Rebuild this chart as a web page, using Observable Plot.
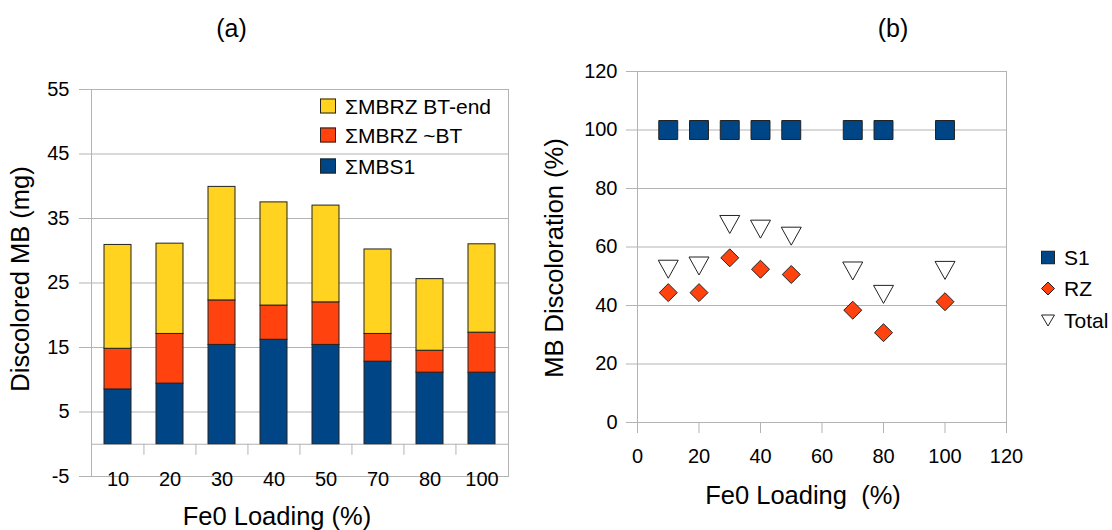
<!DOCTYPE html>
<html>
<head>
<meta charset="utf-8">
<script src="https://cdn.jsdelivr.net/npm/d3@7"></script>
<script src="https://cdn.jsdelivr.net/npm/@observablehq/plot@0.6"></script>
<style>
  body { margin: 0; background: #fff; }
  #wrap { position: relative; width: 1112px; height: 530px; overflow: hidden;
          font-family: "Liberation Sans", Arial, sans-serif; color: #000; background: #fff; }
  #wrap svg { position: absolute; top: 0; }
  .lbl { position: absolute; white-space: pre; line-height: 1; transform: translate(-50%, -50%); }
  .rot { transform: translate(-50%, -50%) rotate(-90deg); }
  .legend { position: absolute; font-size: 21px; line-height: 1; }
  .legend .row { position: absolute; display: flex; align-items: center; white-space: nowrap; }
  .sw { display: inline-block; box-sizing: border-box; border: 1px solid #222; }
</style>
</head>
<body>
<div id="wrap"></div>
<script>
// (a) discolored methylene blue per Fe0 loading, stacked by fraction
const loading = ["10", "20", "30", "40", "50", "70", "80", "100"];
const seriesA = ["ΣMBS1", "ΣMBRZ ~BT", "ΣMBRZ BT-end"];
const mbS1 = [8.5, 9.4, 15.4, 16.2, 15.4, 12.8, 11.1, 11.1];
const mbRZbt = [6.3, 7.7, 6.9, 5.3, 6.6, 4.3, 3.4, 6.2];
const mbRZend = [16.1, 14.0, 17.6, 16.0, 15.0, 13.1, 11.1, 13.7];
const colorsA = ["#004586", "#ff420e", "#ffd320"];
const yTicksA = [-5, 5, 15, 25, 35, 45, 55];

// (b) discoloration percentage per Fe0 loading
const loadingB = [10, 20, 30, 40, 50, 70, 80, 100];
const pctS1 = [100, 100, 100, 100, 100, 100, 100, 100];
const pctRZ = [44.4, 44.4, 56.3, 52.4, 50.6, 38.4, 30.7, 41.3];
const pctTotal = [52.4, 53.5, 67.7, 66.1, 63.7, 51.8, 43.8, 52.0];
const ticksB = [0, 20, 40, 60, 80, 100, 120];
const seriesB = ["S1", "RZ", "Total"];

const grid = "#b3b3b3";
const edge = "#222";
const font = '"Liberation Sans", Arial, sans-serif';
const plain = d => String(d); // hyphen-minus, as in the original labels
const wrap = document.getElementById("wrap");

// ---- panel (a): stacked bars ----
const rowsA = loading.flatMap((l, i) => [
  {load: l, series: seriesA[0], value: mbS1[i]},
  {load: l, series: seriesA[1], value: mbRZbt[i]},
  {load: l, series: seriesA[2], value: mbRZend[i]}
]);
const wA = 560, mlA = 91, mrA = 52;
const stepA = (wA - mlA - mrA) / loading.length;

const chartA = Plot.plot({
  width: wA, height: 530,
  marginLeft: mlA, marginRight: mrA, marginTop: 89, marginBottom: 54,
  style: {fontFamily: font, fontSize: "20px", background: "transparent", color: "#000", overflow: "visible"},
  x: {domain: loading, paddingInner: 0.48, paddingOuter: 0.24, label: null},
  y: {domain: [-5, 55], label: null},
  color: {domain: seriesA, range: colorsA},
  marks: [
    Plot.gridY(yTicksA, {stroke: grid, strokeOpacity: 1}),
    Plot.ruleY([0], {stroke: grid}),
    Plot.ruleX(loading.slice(1), {x: d => d, dx: -stepA / 2, y1: 0, y2: -1.7, stroke: grid}),
    Plot.frame({stroke: grid}),
    Plot.axisY(yTicksA, {tickSize: 12, tickPadding: 10, tickFormat: plain, stroke: grid, fill: "#000", label: null}),
    Plot.axisX({tickSize: 0, tickPadding: -5, fill: "#000", label: null}),
    Plot.barY(rowsA, {x: "load", y: "value", fill: "series", stroke: edge, strokeWidth: 1, order: seriesA})
  ]
});
chartA.style.left = "0px";
wrap.appendChild(chartA);

// ---- panel (b): scatter ----
const triangleDown = {
  draw(ctx, size) {
    const h = Math.sqrt(size / Math.PI);
    ctx.moveTo(-h, -0.9 * h);
    ctx.lineTo(h, -0.9 * h);
    ctx.lineTo(0, 0.9 * h);
    ctx.closePath();
  }
};
const pts = (vals) => loadingB.map((x, i) => ({x, y: vals[i]}));

const chartB = Plot.plot({
  width: 572, height: 530,
  marginLeft: 97, marginRight: 106, marginTop: 71, marginBottom: 108,
  style: {fontFamily: font, fontSize: "20px", background: "transparent", color: "#000", overflow: "visible"},
  x: {domain: [0, 120], label: null},
  y: {domain: [0, 120], label: null},
  marks: [
    Plot.gridY(ticksB, {stroke: grid, strokeOpacity: 1}),
    Plot.frame({stroke: grid}),
    Plot.axisY(ticksB, {tickSize: 11, tickPadding: 9, tickFormat: plain, stroke: grid, fill: "#000", label: null}),
    Plot.axisX(ticksB, {tickSize: 11, tickPadding: 15, tickFormat: plain, stroke: grid, fill: "#000", label: null}),
    Plot.dot(pts(pctS1), {x: "x", y: "y", symbol: "square", r: 10.7, fill: colorsA[0], stroke: edge, strokeWidth: 1}),
    Plot.dot(pts(pctRZ), {x: "x", y: "y", symbol: "diamond2", r: 8.1, fill: colorsA[1], stroke: edge, strokeWidth: 1}),
    Plot.dot(pts(pctTotal), {x: "x", y: "y", symbol: triangleDown, r: 10, fill: "#fff", stroke: edge, strokeWidth: 1})
  ]
});
chartB.style.left = "540px";
wrap.appendChild(chartB);

// ---- titles and axis titles ----
function label(text, x, y, size, rotate) {
  const d = document.createElement("div");
  d.className = "lbl" + (rotate ? " rot" : "");
  d.textContent = text;
  d.style.left = x + "px";
  d.style.top = y + "px";
  d.style.fontSize = size + "px";
  wrap.appendChild(d);
}
label("(a)", 231.5, 28, 25);
label("(b)", 893, 28, 25);
label("Discolored MB (mg)", 21, 279, 25.5, true);
label("Fe0 Loading (%)", 277, 517, 25.5);
label("MB Discoloration (%)", 555, 258, 25.5, true);
label("Fe0 Loading  (%)", 803, 496, 25.5);

// ---- legends ----
function legendRow(parent, x, y, swatchHtml, text, gap) {
  const r = document.createElement("div");
  r.className = "row";
  r.style.left = x + "px";
  r.style.top = y + "px";
  r.style.transform = "translateY(-50%)";
  r.innerHTML = swatchHtml + `<span style="margin-left:${gap}px">${text}</span>`;
  parent.appendChild(r);
}
const legA = document.createElement("div");
legA.className = "legend";
legA.style.left = "0px"; legA.style.top = "0px";
wrap.appendChild(legA);
const rowYA = [105.5, 135, 166];
[2, 1, 0].forEach((k, i) => {
  legendRow(legA, 320, rowYA[i],
    `<span class="sw" style="width:16px;height:15px;background:${colorsA[k]}"></span>`,
    seriesA[k], 9);
});

const legB = document.createElement("div");
legB.className = "legend";
legB.style.left = "0px"; legB.style.top = "0px";
wrap.appendChild(legB);
const glyphs = [
  `<svg width="14" height="14" style="position:static;display:block"><rect x="0.5" y="0.5" width="13" height="13" fill="${colorsA[0]}" stroke="${edge}"/></svg>`,
  `<svg width="14" height="14" style="position:static;display:block"><path d="M7,0.5L13.5,7L7,13.5L0.5,7Z" fill="${colorsA[1]}" stroke="${edge}"/></svg>`,
  `<svg width="14" height="14" style="position:static;display:block"><path d="M0.5,1.5L13.5,1.5L7,12.5Z" fill="#fff" stroke="${edge}"/></svg>`
];
const rowYB = [257, 288, 320];
seriesB.forEach((s, i) => legendRow(legB, 1041, rowYB[i], glyphs[i], s, 9));
</script>
</body>
</html>
